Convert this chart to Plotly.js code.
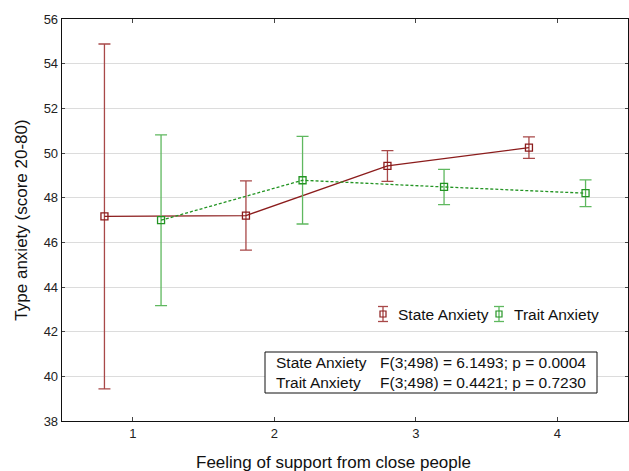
<!DOCTYPE html>
<html>
<head>
<meta charset="utf-8">
<script src="https://cdn.plot.ly/plotly-3.0.1.min.js"></script>
<style>html,body{margin:0;padding:0;background:#fff;}#chart{width:629px;height:471px;}</style>
</head>
<body>
<div id="chart"></div>
<script>
const categories = [1, 2, 3, 4];
const stateMeans = [47.16, 47.20, 49.42, 50.24];
const stateErr = [7.72, 1.55, 0.69, 0.48];
const traitMeans = [46.99, 48.78, 48.48, 48.20];
const traitErr = [3.82, 1.96, 0.79, 0.60];
const seriesNames = ["State Anxiety", "Trait Anxiety"];
const statTexts = ["F(3;498) = 6.1493; p = 0.0004", "F(3;498) = 0.4421; p = 0.7230"];

const FONT = '"Liberation Sans", Arial, sans-serif';
const red = '#8b1c1c';
const green = '#239423';
const redErr = '#a84848';
const greenErr = '#5fb85f';

// plot area in pixels (for converting layout decoration positions)
const M = {l: 62, r: 1, t: 19, b: 50};
const PW = 629 - M.l - M.r, PH = 471 - M.t - M.b;
const px = v => (v - M.l) / PW;
const py = v => (471 - M.b - v) / PH;

const traces = [
  {
    x: categories.map(c => c - 0.2), y: stateMeans, name: seriesNames[0],
    type: 'scatter', mode: 'lines+markers', showlegend: false,
    line: {color: red, width: 1.3},
    marker: {symbol: 'square-open', size: 7, color: red, line: {width: 1.3}},
    error_y: {type: 'data', array: stateErr, visible: true, color: redErr, thickness: 1.3, width: 6}
  },
  {
    x: categories.map(c => c + 0.2), y: traitMeans, name: seriesNames[1],
    type: 'scatter', mode: 'lines+markers', showlegend: false,
    line: {color: green, width: 1.3, dash: '3px,2px'},
    marker: {symbol: 'square-open', size: 7, color: green, line: {width: 1.3}},
    error_y: {type: 'data', array: traitErr, visible: true, color: greenErr, thickness: 1.3, width: 6}
  }
];

// custom legend icons (error-bar glyph) + labels
const legendItems = [
  {name: seriesNames[0], cx: 383, tx: 396, col: redErr, mcol: red},
  {name: seriesNames[1], cx: 499, tx: 512, col: greenErr, mcol: green}
];
const legY = 314;
const shapes = [{type: 'rect', xref: 'paper', yref: 'paper', x0: px(265), x1: px(597), y0: py(393), y1: py(352),
                 line: {color: '#111', width: 1}, fillcolor: '#fff', layer: 'above'}];
const annotations = [];
legendItems.forEach(it => {
  shapes.push({type: 'line', xref: 'paper', yref: 'paper', x0: px(it.cx), x1: px(it.cx), y0: py(legY - 7.5), y1: py(legY + 7.5), line: {color: it.col, width: 1.3}});
  shapes.push({type: 'line', xref: 'paper', yref: 'paper', x0: px(it.cx - 5), x1: px(it.cx + 5), y0: py(legY - 7.5), y1: py(legY - 7.5), line: {color: it.col, width: 1.3}});
  shapes.push({type: 'line', xref: 'paper', yref: 'paper', x0: px(it.cx - 5), x1: px(it.cx + 5), y0: py(legY + 7.5), y1: py(legY + 7.5), line: {color: it.col, width: 1.3}});
  shapes.push({type: 'rect', xref: 'paper', yref: 'paper', x0: px(it.cx - 3), x1: px(it.cx + 3), y0: py(legY + 3), y1: py(legY - 3), line: {color: it.mcol, width: 1.2}, fillcolor: 'rgba(0,0,0,0)'});
  annotations.push({xref: 'paper', yref: 'paper', x: px(it.tx), y: py(legY), xanchor: 'left', yanchor: 'middle', showarrow: false,
                    text: it.name, font: {family: FONT, size: 15.5, color: '#111'}});
});
annotations.push(
  {xref: 'paper', yref: 'paper', x: px(274), y: py(372.5), xanchor: 'left', yanchor: 'middle', align: 'left', showarrow: false,
   text: seriesNames.join('<br>'), font: {family: FONT, size: 15.5, color: '#111'}},
  {xref: 'paper', yref: 'paper', x: px(378), y: py(372.5), xanchor: 'left', yanchor: 'middle', align: 'left', showarrow: false,
   text: statTexts.join('<br>'), font: {family: FONT, size: 15.5, color: '#111'}},
  {xref: 'paper', yref: 'paper', x: px(333), y: py(462), xanchor: 'center', yanchor: 'middle', showarrow: false,
   text: 'Feeling of support from close people', font: {family: FONT, size: 17, color: '#111'}}
);

const layout = {
  width: 629, height: 471,
  margin: M,
  paper_bgcolor: '#fff', plot_bgcolor: '#fff',
  font: {family: FONT, color: '#111', size: 13},
  showlegend: false,
  xaxis: {
    range: [0.5, 4.5], tickvals: categories, ticktext: categories.map(String),
    showgrid: false, zeroline: false, showline: true, linecolor: '#111', linewidth: 1.3,
    mirror: 'ticks', ticks: 'inside', ticklen: 4, tickcolor: '#444',
    tickfont: {family: FONT, size: 13, color: '#222'}
  },
  yaxis: {
    range: [38, 56], dtick: 2, tick0: 38,
    showgrid: true, gridcolor: '#dcdcdc', gridwidth: 1, zeroline: false,
    showline: true, linecolor: '#111', linewidth: 1.3, mirror: 'ticks',
    ticks: 'inside', ticklen: 3, tickcolor: '#444',
    tickfont: {family: FONT, size: 13, color: '#222'},
    title: {text: 'Type anxiety (score 20-80)', font: {family: FONT, size: 17, color: '#111'}, standoff: 11}
  },
  shapes: shapes,
  annotations: annotations
};

Plotly.newPlot('chart', traces, layout, {displayModeBar: false, staticPlot: true});
</script>
</body>
</html>
